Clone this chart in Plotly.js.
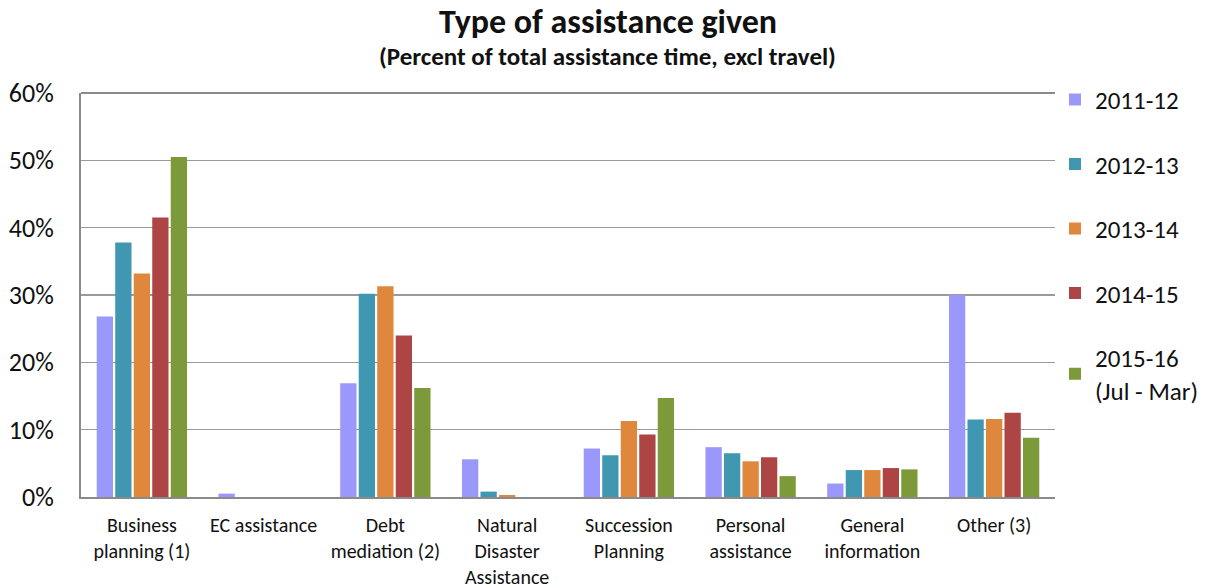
<!DOCTYPE html>
<html>
<head>
<meta charset="utf-8">
<script src="https://cdn.plot.ly/plotly-3.0.1.min.js"></script>
<style>
  html, body { margin: 0; padding: 0; background: #fff; }
  #chart { width: 1216px; height: 588px; }
</style>
</head>
<body>
<div id="chart"></div>
<script>
// Assistance categories shown on the x axis
const categories = [
  'Business<br>planning (1)',
  'EC assistance',
  'Debt<br>mediation (2)',
  'Natural<br>Disaster<br>Assistance',
  'Succession<br>Planning',
  'Personal<br>assistance',
  'General<br>information',
  'Other (3)'
];

// Share of total assistance time (%), one array per financial year
const fy2011_12 = [26.8, 0.5, 16.9, 5.6, 7.2, 7.4, 2.0, 30.0];
const fy2012_13 = [37.8, 0.0, 30.2, 0.8, 6.2, 6.5, 4.0, 11.5];
const fy2013_14 = [33.2, 0.0, 31.3, 0.3, 11.3, 5.3, 4.0, 11.6];
const fy2014_15 = [41.5, 0.0, 24.0, 0.0, 9.3, 5.9, 4.3, 12.5];
const fy2015_16 = [50.5, 0.0, 16.2, 0.0, 14.7, 3.1, 4.1, 8.8];

const seriesNames = ['2011-12', '2012-13', '2013-14', '2014-15', '2015-16<br>(Jul - Mar)'];
const seriesValues = [fy2011_12, fy2012_13, fy2013_14, fy2014_15, fy2015_16];
const seriesColors = ['#9a98fb', '#4097b2', '#de873d', '#ad4545', '#7c9a3a'];

const yTickVals = [0, 10, 20, 30, 40, 50, 60];
const yTickText = ['0%', '10%', '20%', '30%', '40%', '50%', '60%'];

const FONT = 'Carlito, Lato, "Open Sans", sans-serif';

const traces = seriesValues.map((vals, i) => ({
  type: 'bar',
  name: seriesNames[i],
  x: categories,
  y: vals,
  legendgroup: 'g' + i,
  marker: { color: seriesColors[i], line: { width: 0 } },
  hoverinfo: 'x+y+name'
}));

const layout = {
  width: 1216,
  height: 588,
  paper_bgcolor: '#ffffff',
  plot_bgcolor: '#ffffff',
  font: { family: FONT, color: '#111' },
  margin: { l: 81, r: 157, t: 93, b: 91 },
  barmode: 'group',
  bargap: 0.24,
  bargroupgap: 0.12,
  title: {
    text: '<b>Type of assistance given</b>',
    font: { family: FONT, size: 34, color: '#111' },
    x: 0.5, xref: 'container', xanchor: 'center',
    y: 1 - 21 / 588, yref: 'container', yanchor: 'middle'
  },
  annotations: [{
    text: '<b>(Percent of total assistance time, excl travel)</b>',
    xref: 'paper', yref: 'paper',
    x: (610 - 81) / 978, y: 1 + (93 - 57) / 404,
    xanchor: 'center', yanchor: 'middle',
    showarrow: false,
    font: { family: FONT, size: 25, color: '#111' }
  }],
  xaxis: {
    type: 'category',
    showline: true,
    linecolor: '#8a8a8a',
    linewidth: 2,
    ticks: 'outside',
    ticklen: 9,
    tickcolor: 'rgba(0,0,0,0)',
    tickfont: { family: FONT, size: 20, color: '#111' },
    showgrid: false,
    fixedrange: true
  },
  yaxis: {
    range: [0, 60],
    tickvals: yTickVals,
    ticktext: yTickText,
    tickfont: { family: FONT, size: 26, color: '#111' },
    showline: true,
    linecolor: '#8a8a8a',
    linewidth: 2,
    showgrid: true,
    gridcolor: '#9a9a9a',
    gridwidth: 1.5,
    zeroline: false,
    ticks: 'outside',
    ticklen: 20,
    tickcolor: 'rgba(0,0,0,0)',
    fixedrange: true
  },
  shapes: [{
    type: 'line', xref: 'paper', yref: 'paper',
    x0: 0, x1: 1, y0: 1, y1: 1,
    line: { color: '#8a8a8a', width: 2 }
  }],
  showlegend: true,
  legend: {
    x: 1.0, xanchor: 'left',
    y: 1.04, yanchor: 'top',
    maxheight: 1,
    traceorder: 'grouped',
    tracegroupgap: 29,
    font: { family: FONT, size: 25, color: '#111' },
    bgcolor: 'rgba(0,0,0,0)',
    borderwidth: 0,
    itemclick: false,
    itemdoubleclick: false
  }
};

Plotly.newPlot('chart', traces, layout, { displayModeBar: false, staticPlot: true });
</script>
</body>
</html>
